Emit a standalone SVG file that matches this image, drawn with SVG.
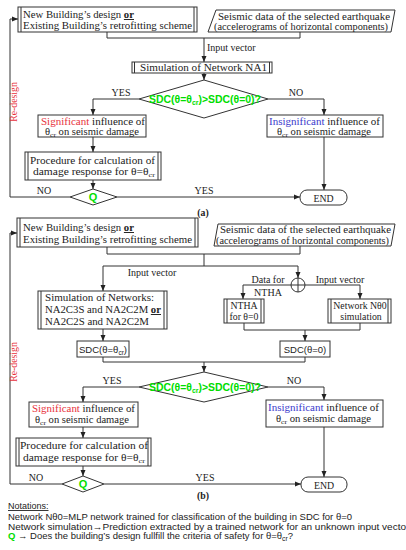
<svg xmlns="http://www.w3.org/2000/svg" width="406" height="550" viewBox="0 0 406 550">
<style>
.box{fill:#fff;stroke:#333;stroke-width:1}
.ln{fill:none;stroke:#333;stroke-width:1}
.t{font-family:"Liberation Serif","Times New Roman",serif;font-size:9.8px;fill:#222}
.c{text-anchor:middle}
.lb{font-family:"Liberation Serif","Times New Roman",serif;font-size:10px;fill:#222}
.g{font-family:"Liberation Sans",Arial,sans-serif;font-weight:bold;fill:#00dd00}
.s{font-family:"Liberation Sans",Arial,sans-serif;font-size:9.5px;fill:#222}
.red{fill:#e8323c}
.blue{fill:#3a3acc}
.n{font-family:"Liberation Sans",Arial,sans-serif;font-size:9px;fill:#222}
.u{text-decoration:underline;font-weight:bold}
</style>
<defs>
<marker id="ar" markerUnits="userSpaceOnUse" markerWidth="6" markerHeight="6" refX="6" refY="3" orient="auto">
<path d="M0,0.5 L6,3 L0,5.5 z" fill="#222"/>
</marker>
</defs>

<g id="connectors">
<!-- (a) -->
<polyline class="ln" points="107,32 107,38 300,38 300,32"/>
<path class="ln" d="M204,38 V62" marker-end="url(#ar)"/>
<path class="ln" d="M204,73 V80" marker-end="url(#ar)"/>
<path class="ln" d="M139,99 H93 V115" marker-end="url(#ar)"/>
<path class="ln" d="M268,99 H324 V115" marker-end="url(#ar)"/>
<path class="ln" d="M93,137 V152" marker-end="url(#ar)"/>
<path class="ln" d="M93,180 V189" marker-end="url(#ar)"/>
<path class="ln" d="M70,197 H10 V19 H18" marker-end="url(#ar)"/>
<path class="ln" d="M117,197 H300" marker-end="url(#ar)"/>
<path class="ln" d="M324,137 V190" marker-end="url(#ar)"/>
<!-- (b) -->
<polyline class="ln" points="107,247 107,254 300,254 300,246"/>
<path class="ln" d="M204,254 V266"/>
<path class="ln" d="M103,266 H298"/>
<path class="ln" d="M103,266 V291" marker-end="url(#ar)"/>
<path class="ln" d="M298,266 V278" marker-end="url(#ar)"/>
<path class="ln" d="M291,285 H243 V299" marker-end="url(#ar)"/>
<path class="ln" d="M305,285 H360 V299" marker-end="url(#ar)"/>
<polyline class="ln" points="244,323 244,330 360,330 360,323"/>
<path class="ln" d="M305,330 V341" marker-end="url(#ar)"/>
<path class="ln" d="M103,329 V341" marker-end="url(#ar)"/>
<polyline class="ln" points="103,357 103,362 305,362 305,357"/>
<path class="ln" d="M204,362 V372" marker-end="url(#ar)"/>
<path class="ln" d="M139,387 H83 V402" marker-end="url(#ar)"/>
<path class="ln" d="M268,387 H324 V400" marker-end="url(#ar)"/>
<path class="ln" d="M83,427 V438" marker-end="url(#ar)"/>
<path class="ln" d="M83,466 V476" marker-end="url(#ar)"/>
<path class="ln" d="M62,484 H10 V233 H17" marker-end="url(#ar)"/>
<path class="ln" d="M104,484 H301" marker-end="url(#ar)"/>
<path class="ln" d="M324,427 V477" marker-end="url(#ar)"/>
</g>

<!-- ===== (a) ===== -->
<g id="a-design">
<rect class="box" x="18" y="7" width="179" height="25"/>
<path class="ln" d="M21,7 V32 M194,7 V32"/>
<text class="t" x="23" y="18" textLength="111" lengthAdjust="spacingAndGlyphs">New Building’s design <tspan class="u">or</tspan></text>
<text class="t" x="23" y="29" textLength="169" lengthAdjust="spacingAndGlyphs">Existing Building’s retrofitting scheme</text>
</g>
<g id="a-seismic">
<polygon class="box" points="216,10 395,10 391,32 208,32"/>
<text class="t" x="218" y="19.5" textLength="172" lengthAdjust="spacingAndGlyphs">Seismic data of the selected earthquake</text>
<text class="t" x="214" y="30" textLength="174" lengthAdjust="spacingAndGlyphs">(accelerograms of horizontal components)</text>
</g>
<text class="lb" x="207" y="51">Input vector</text>
<g id="a-sim">
<rect class="box" x="132" y="62" width="140" height="11"/>
<path class="ln" d="M134.5,62 V73 M269.5,62 V73"/>
<text class="t" x="140" y="71" textLength="127" lengthAdjust="spacingAndGlyphs">Simulation of Network NA1</text>
</g>
<g id="a-decision">
<polygon class="box" points="204,80 268,99 204,118 139,99"/>
<text class="g c" x="205" y="103" font-size="10.5" textLength="112" lengthAdjust="spacingAndGlyphs">SDC(θ=θ<tspan font-size="7" dy="2">cr</tspan><tspan dy="-2">)&gt;SDC(θ=0)?</tspan></text>
</g>
<text class="lb c" x="121" y="96">YES</text>
<text class="lb c" x="296" y="96">NO</text>
<g id="a-significant">
<rect class="box" x="38" y="115" width="108" height="22"/>
<text class="t" x="41" y="124.5" textLength="104" lengthAdjust="spacingAndGlyphs"><tspan class="red">Significant</tspan> influence of</text>
<text class="t" x="45" y="135" textLength="94" lengthAdjust="spacingAndGlyphs">θ<tspan font-size="7" dy="2">cr</tspan><tspan dy="-2"> on seismic damage</tspan></text>
</g>
<g id="a-insignificant">
<rect class="box" x="267" y="115" width="116" height="22"/>
<text class="t" x="269" y="124.5" textLength="111" lengthAdjust="spacingAndGlyphs"><tspan class="blue">Insignificant</tspan> influence of</text>
<text class="t" x="277" y="135" textLength="94" lengthAdjust="spacingAndGlyphs">θ<tspan font-size="7" dy="2">cr</tspan><tspan dy="-2"> on seismic damage</tspan></text>
</g>
<g id="a-procedure">
<rect class="box" x="25" y="152" width="136" height="28"/>
<path class="ln" d="M28,152 V180 M158,152 V180"/>
<text class="t" x="30" y="163.5" textLength="125" lengthAdjust="spacingAndGlyphs">Procedure for calculation of</text>
<text class="t" x="33" y="175" textLength="122" lengthAdjust="spacingAndGlyphs">damage response for θ=θ<tspan font-size="7" dy="2">cr</tspan></text>
</g>
<g id="a-q">
<polygon class="box" points="93,189 117,197 93,205 70,197"/>
<text class="g c" x="93" y="201" font-size="11">Q</text>
</g>
<text class="lb c" x="44" y="194">NO</text>
<text class="lb c" x="204" y="194">YES</text>
<g id="a-end">
<rect class="box" x="300" y="190" width="47" height="15" rx="7" ry="7"/>
<text class="t c" x="323.5" y="201.5" font-size="10.5">END</text>
</g>
<text class="t c" x="203" y="216" font-size="9" font-weight="bold">(a)</text>
<text class="t c red" transform="translate(17,102) rotate(-90)" font-size="9.5">Re-design</text>

<!-- ===== (b) ===== -->
<g id="b-design">
<rect class="box" x="17" y="218" width="181" height="29"/>
<path class="ln" d="M20,218 V247 M195,218 V247"/>
<text class="t" x="23" y="231" textLength="111" lengthAdjust="spacingAndGlyphs">New Building’s design <tspan class="u">or</tspan></text>
<text class="t" x="23" y="243" textLength="169" lengthAdjust="spacingAndGlyphs">Existing Building’s retrofitting scheme</text>
</g>
<g id="b-seismic">
<polygon class="box" points="218,224 395,224 391,246 214,246"/>
<text class="t" x="220" y="233" textLength="171" lengthAdjust="spacingAndGlyphs">Seismic data of the selected earthquake</text>
<text class="t" x="216" y="243.5" textLength="173" lengthAdjust="spacingAndGlyphs">(accelerograms of horizontal components)</text>
</g>
<text class="lb c" x="152" y="276">Input vector</text>
<g id="b-sum">
<circle class="box" cx="298" cy="285" r="7"/>
<path class="ln" d="M291,285 H305 M298,278 V292"/>
</g>
<text class="lb c" x="268" y="283">Data for</text>
<text class="lb c" x="268" y="296">NTHA</text>
<text class="lb c" x="340" y="283">Input vector</text>
<g id="b-sim">
<rect class="box" x="38" y="291" width="129" height="38"/>
<path class="ln" d="M41,291 V329 M164,291 V329"/>
<text class="t" x="45" y="301" textLength="109" lengthAdjust="spacingAndGlyphs">Simulation of Networks:</text>
<text class="t" x="45" y="313" textLength="116" lengthAdjust="spacingAndGlyphs">NA2C3S and NA2C2M <tspan class="u">or</tspan></text>
<text class="t" x="45" y="325" textLength="104" lengthAdjust="spacingAndGlyphs">NA2C2S and NA2C2M</text>
</g>
<g id="b-ntha">
<rect class="box" x="224" y="299" width="40" height="24"/>
<path class="ln" d="M227,299 V323 M261,299 V323"/>
<text class="t c" x="244" y="308.5">NTHA</text>
<text class="t c" x="244" y="319.5">for θ=0</text>
</g>
<g id="b-n0">
<rect class="box" x="328" y="299" width="63" height="24"/>
<path class="ln" d="M331,299 V323 M388,299 V323"/>
<text class="t c" x="360" y="308.5">Network Nθ0</text>
<text class="t c" x="361" y="319.5">simulation</text>
</g>
<g id="b-sdccr">
<rect class="box" x="77" y="341" width="52" height="16"/>
<text class="s c" x="103" y="352.5">SDC(θ=θ<tspan font-size="6.5" dy="2">cr</tspan><tspan dy="-2">)</tspan></text>
</g>
<g id="b-sdc0">
<rect class="box" x="280" y="341" width="50" height="16"/>
<text class="s c" x="305" y="352.5">SDC(θ=0)</text>
</g>
<g id="b-decision">
<polygon class="box" points="204,372 268,387 204,402 139,387"/>
<text class="g c" x="205" y="391" font-size="10.5" textLength="112" lengthAdjust="spacingAndGlyphs">SDC(θ=θ<tspan font-size="7" dy="2">cr</tspan><tspan dy="-2">)&gt;SDC(θ=0)?</tspan></text>
</g>
<text class="lb c" x="112" y="384">YES</text>
<text class="lb c" x="294" y="384">NO</text>
<g id="b-significant">
<rect class="box" x="29" y="402" width="109" height="25"/>
<text class="t" x="32" y="412" textLength="103" lengthAdjust="spacingAndGlyphs"><tspan class="red">Significant</tspan> influence of</text>
<text class="t" x="35" y="423" textLength="94" lengthAdjust="spacingAndGlyphs">θ<tspan font-size="7" dy="2">cr</tspan><tspan dy="-2"> on seismic damage</tspan></text>
</g>
<g id="b-insignificant">
<rect class="box" x="266" y="400" width="117" height="27"/>
<text class="t" x="268" y="411" textLength="111" lengthAdjust="spacingAndGlyphs"><tspan class="blue">Insignificant</tspan> influence of</text>
<text class="t" x="276" y="422" textLength="95" lengthAdjust="spacingAndGlyphs">θ<tspan font-size="7" dy="2">cr</tspan><tspan dy="-2"> on seismic damage</tspan></text>
</g>
<g id="b-procedure">
<rect class="box" x="16" y="438" width="135" height="28"/>
<path class="ln" d="M19,438 V466 M148,438 V466"/>
<text class="t" x="20" y="449" textLength="128" lengthAdjust="spacingAndGlyphs">Procedure for calculation of</text>
<text class="t" x="23" y="461" textLength="122" lengthAdjust="spacingAndGlyphs">damage response for θ=θ<tspan font-size="7" dy="2">cr</tspan></text>
</g>
<g id="b-q">
<polygon class="box" points="83,476 104,484 83,492 62,484"/>
<text class="g c" x="83" y="488" font-size="11">Q</text>
</g>
<text class="lb c" x="36" y="481">NO</text>
<text class="lb c" x="205" y="481">YES</text>
<g id="b-end">
<rect class="box" x="301" y="477" width="46" height="15" rx="7" ry="7"/>
<text class="t c" x="324" y="488.5" font-size="10.5">END</text>
</g>
<text class="t c" x="203" y="499" font-size="9" font-weight="bold">(b)</text>
<text class="t c red" transform="translate(17,362) rotate(-90)" font-size="9.5">Re-design</text>

<g id="notations">
<text class="n" x="8" y="509" text-decoration="underline">Notations:</text>
<text class="n" x="8" y="520" textLength="344" lengthAdjust="spacingAndGlyphs">Network Nθ0=MLP network trained for classification of the building in SDC for θ=0</text>
<text class="n" x="8" y="530" textLength="398" lengthAdjust="spacingAndGlyphs">Network simulation→Prediction extracted by a trained network for an unknown input vecto</text>
<text class="n" x="8" y="539" textLength="285" lengthAdjust="spacingAndGlyphs"><tspan class="g" font-size="9">Q</tspan> → Does the building’s design fullfill the criteria of safety for θ=θ<tspan font-size="6.5" dy="2">cr</tspan><tspan dy="-2">?</tspan></text>
</g>
</svg>
